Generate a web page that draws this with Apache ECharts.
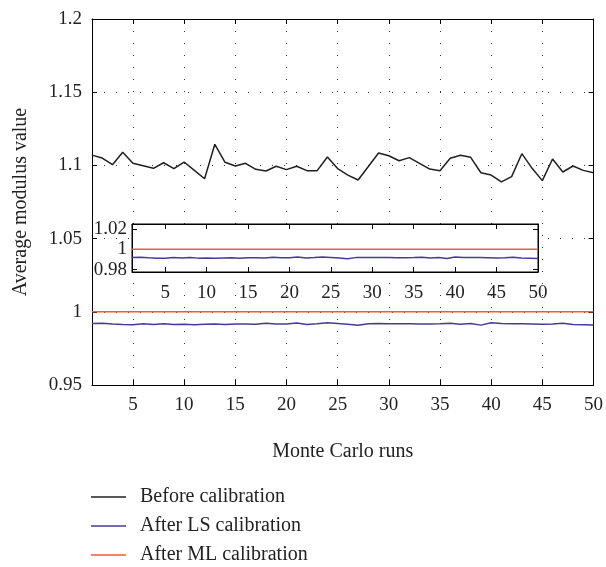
<!DOCTYPE html>
<html><head><meta charset="utf-8">
<script src="https://cdn.jsdelivr.net/npm/echarts@6/dist/echarts.min.js"></script>
<style>html,body{margin:0;padding:0;background:#fff}#c{width:606px;height:567px}</style>
</head><body><div id="c"></div>
<script>
const runs = [1,2,3,4,5,6,7,8,9,10,11,12,13,14,15,16,17,18,19,20,21,22,23,24,25,26,27,28,29,30,31,32,33,34,35,36,37,38,39,40,41,42,43,44,45,46,47,48,49,50];
const beforeCalibration = [1.107,1.105,1.1005,1.109,1.1014,1.0998,1.098,1.1018,1.0978,1.1023,1.0966,1.0909,1.1144,1.1021,1.0996,1.1014,1.0973,1.0962,1.0994,1.0971,1.0994,1.0964,1.0964,1.1057,1.0978,1.0934,1.090,1.0992,1.1085,1.1066,1.1032,1.1053,1.1014,1.0975,1.0964,1.1049,1.1069,1.1055,1.095,1.0934,1.0887,1.0923,1.108,1.098,1.0896,1.1044,1.0955,1.0996,1.0966,1.095];
const afterLS = [0.9920,0.9922,0.9916,0.9913,0.9912,0.9918,0.9914,0.9919,0.9913,0.9915,0.9912,0.9915,0.9916,0.9913,0.9917,0.9916,0.9915,0.9922,0.9917,0.9916,0.9924,0.9914,0.9918,0.9925,0.9920,0.9915,0.9908,0.9918,0.9920,0.9918,0.9919,0.9918,0.9917,0.9917,0.9918,0.9921,0.9915,0.9920,0.9909,0.9925,0.9920,0.9919,0.9918,0.9917,0.9915,0.9916,0.9921,0.9914,0.9912,0.9910];
const afterML = [1,1,1,1,1,1,1,1,1,1,1,1,1,1,1,1,1,1,1,1,1,1,1,1,1,1,1,1,1,1,1,1,1,1,1,1,1,1,1,1,1,1,1,1,1,1,1,1,1,1];
const xTicks = [5,10,15,20,25,30,35,40,45,50];
const insetYTicks = [0.98,1,1.02];
const names = ['Before calibration','After LS calibration','After ML calibration'];

const FONT = "'Liberation Serif','Times New Roman',serif";
const pair = arr => runs.map((r,i)=>[r,arr[i]]);
const axLine = {show:true, lineStyle:{color:'#000', width:1}};
const tickIn = (len, vals) => {const t={show:true, inside:true, length:len, lineStyle:{color:'#000', width:1}}; if(vals) t.customValues=vals; return t;};
const dotted = {show:true, lineStyle:{color:'#333', width:1, type:[1,11]}};
const lab = (size) => ({color:'#222', fontFamily:FONT, fontSize:size});

const chart = echarts.init(document.getElementById('c'), null, {renderer:'canvas'});
chart.setOption({
  animation:false,
  backgroundColor:'#fff',
  grid:[
    {left:92, top:19, width:502, height:366, show:false},
    {left:132, top:224, width:406, height:48, show:true, backgroundColor:'#fff', borderColor:'#000', borderWidth:1, z:10}
  ],
  legend:{
    data:names, orient:'vertical', left:91, top:487, padding:0, itemWidth:35, itemHeight:1.5, itemGap:9,
    icon:'path://M0 0H35V1.5H0Z',
    textStyle:Object.assign(lab(20),{padding:[0,0,0,9]})
  },
  xAxis:[
    {gridIndex:0, type:'value', min:1, max:50, position:'bottom', axisLine:axLine,
     axisTick:tickIn(5, xTicks), axisLabel:Object.assign(lab(19),{customValues:xTicks, margin:11}),
     splitLine:dotted, name:'Monte Carlo runs', nameLocation:'middle', nameGap:57, nameTextStyle:lab(20)},
    {gridIndex:0, type:'value', min:1, max:50, position:'top', axisLine:axLine,
     axisTick:tickIn(5, xTicks), axisLabel:{show:false, customValues:xTicks}, splitLine:{show:false}},
    {gridIndex:1, type:'value', min:1, max:50, position:'bottom', axisLine:axLine, z:11,
     axisTick:tickIn(5, xTicks), axisLabel:Object.assign(lab(19),{customValues:xTicks, margin:12}), splitLine:{show:false}},
    {gridIndex:1, type:'value', min:1, max:50, position:'top', axisLine:axLine, z:11,
     axisTick:tickIn(5, xTicks), axisLabel:{show:false, customValues:xTicks}, splitLine:{show:false}}
  ],
  yAxis:[
    {gridIndex:0, type:'value', min:0.95, max:1.2, interval:0.05, position:'left', axisLine:axLine,
     axisTick:tickIn(5), axisLabel:Object.assign(lab(19),{margin:10}), splitLine:dotted,
     name:'Average modulus value', nameLocation:'middle', nameGap:61, nameTextStyle:lab(20)},
    {gridIndex:0, type:'value', min:0.95, max:1.2, interval:0.05, position:'right', axisLine:axLine,
     axisTick:tickIn(5), axisLabel:{show:false}, splitLine:{show:false}},
    {gridIndex:1, type:'value', min:0.9776, max:1.025, position:'left', axisLine:axLine, z:11,
     axisTick:tickIn(5, insetYTicks), axisLabel:Object.assign(lab(19),{customValues:insetYTicks, margin:5}), splitLine:{show:false}},
    {gridIndex:1, type:'value', min:0.9776, max:1.025, position:'right', axisLine:axLine, z:11,
     axisTick:tickIn(5, insetYTicks), axisLabel:{show:false, customValues:insetYTicks}, splitLine:{show:false}}
  ],
  series:[
    {name:names[0], type:'line', xAxisIndex:0, yAxisIndex:0, data:pair(beforeCalibration), symbol:'none', lineStyle:{color:'#231f20', width:1.5}, itemStyle:{color:'#231f20'}},
    {name:names[1], type:'line', xAxisIndex:0, yAxisIndex:0, data:pair(afterLS), symbol:'none', lineStyle:{color:'#453b99', width:1.5}, itemStyle:{color:'#453b99'}},
    {name:names[2], type:'line', xAxisIndex:0, yAxisIndex:0, data:pair(afterML), symbol:'none', lineStyle:{color:'#f15a3a', width:1.5}, itemStyle:{color:'#f15a3a'}},
    {name:names[1], type:'line', xAxisIndex:2, yAxisIndex:2, data:pair(afterLS), symbol:'none', z:12, lineStyle:{color:'#453b99', width:1.5}, itemStyle:{color:'#453b99'}},
    {name:names[2], type:'line', xAxisIndex:2, yAxisIndex:2, data:pair(afterML), symbol:'none', z:12, lineStyle:{color:'#f15a3a', width:1.5}, itemStyle:{color:'#f15a3a'}}
  ]
});
</script></body></html>
